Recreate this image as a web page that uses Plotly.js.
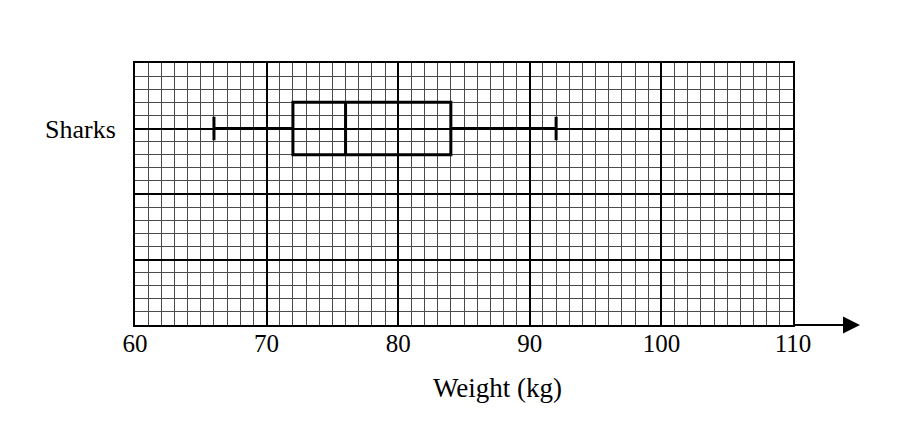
<!DOCTYPE html>
<html>
<head>
<meta charset="utf-8">
<script src="https://cdn.plot.ly/plotly-3.0.1.min.js"></script>
<style>html,body{margin:0;padding:0;background:#fff;}#chart{width:915px;height:429px;}</style>
</head>
<body>
<div id="chart"></div>
<script>
// Data
const categories = ['Sharks'];
const minValues = [66];
const q1Values = [72];
const medianValues = [76];
const q3Values = [84];
const maxValues = [92];
const categoryPositions = [15];
const xTickValues = [60, 70, 80, 90, 100, 110];
const xTickLabels = ['60', '70', '80', '90', '100', '110'];
const xAxisTitle = 'Weight (kg)';

const serif = 'Liberation Serif, Times New Roman, serif';

const trace = {
  type: 'box',
  orientation: 'h',
  y: categoryPositions,
  lowerfence: minValues,
  q1: q1Values,
  median: medianValues,
  q3: q3Values,
  upperfence: maxValues,
  name: categories[0],
  width: 4,
  whiskerwidth: 0.45,
  line: {color: '#000', width: 3},
  fillcolor: 'rgba(0,0,0,0)',
  hoverinfo: 'skip',
  showlegend: false
};

const layout = {
  width: 915, height: 429,
  margin: {l: 135, r: 122, t: 63, b: 104},
  paper_bgcolor: '#fff', plot_bgcolor: '#fff',
  font: {family: serif, color: '#000', size: 24},
  xaxis: {
    range: [60, 110],
    tickmode: 'array', tickvals: xTickValues, ticktext: xTickLabels,
    showgrid: true, gridcolor: '#000', gridwidth: 2,
    zeroline: false,
    showline: true, linecolor: '#000', linewidth: 2, mirror: true,
    ticks: '', ticklabelstandoff: -5,
    tickfont: {family: serif, size: 25, color: '#000'},
    minor: {tickmode: 'linear', tick0: 60, dtick: 1, showgrid: true, gridcolor: '#4a4a4a', gridwidth: 1, ticks: ''},
    fixedrange: true
  },
  yaxis: {
    range: [0, 20],
    tickmode: 'array', tickvals: [0, 5, 10, 15, 20], ticktext: ['', '', '', categories[0], ''],
    showgrid: true, gridcolor: '#000', gridwidth: 2,
    zeroline: false,
    showline: true, linecolor: '#000', linewidth: 2, mirror: true,
    ticks: '', ticklabelstandoff: 12,
    tickfont: {family: serif, size: 26, color: '#000'},
    minor: {tickmode: 'linear', tick0: 0, dtick: 1, showgrid: true, gridcolor: '#4a4a4a', gridwidth: 1, ticks: ''},
    fixedrange: true
  },
  annotations: [{
    xref: 'paper', yref: 'paper',
    x: (860 - 135) / 658, y: 0,
    ax: -68, ay: 0, axref: 'pixel', ayref: 'pixel',
    text: '', showarrow: true,
    arrowhead: 2, arrowsize: 1.7, arrowwidth: 2, arrowcolor: '#000'
  }, {
    xref: 'paper', yref: 'paper',
    x: (497 - 135) / 658, y: -(388 - 325) / 262,
    xanchor: 'center', yanchor: 'middle',
    text: xAxisTitle, showarrow: false,
    font: {family: serif, size: 27, color: '#000'}
  }]
};

Plotly.newPlot('chart', [trace], layout, {displayModeBar: false, staticPlot: true});
</script>
</body>
</html>
